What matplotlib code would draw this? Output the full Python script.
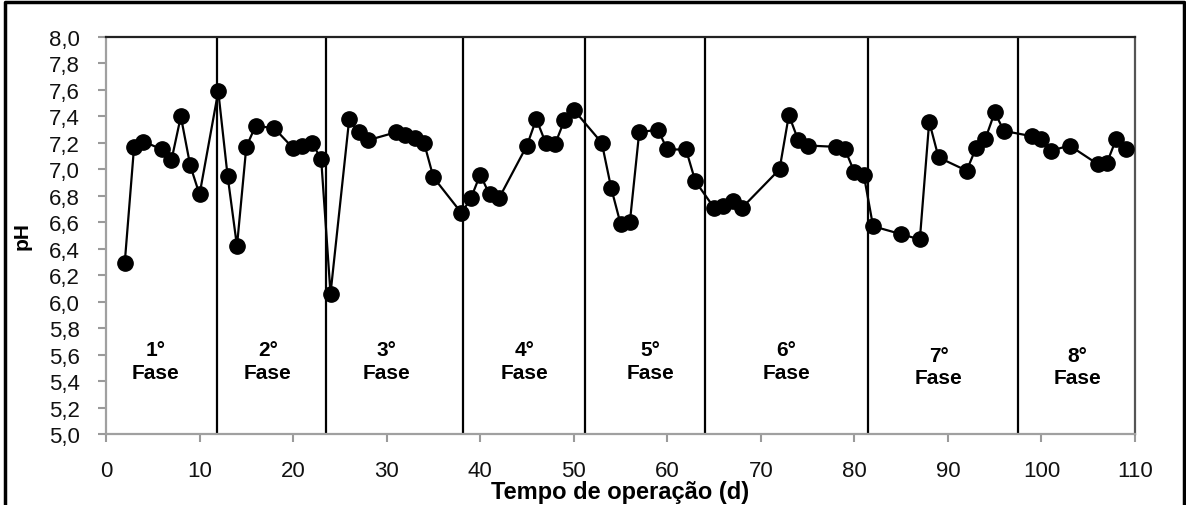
import matplotlib
matplotlib.use("Agg")
import matplotlib.pyplot as plt
from matplotlib.lines import Line2D

plt.rcParams['font.family'] = ['Liberation Sans', 'DejaVu Sans']

# dados
dias = [2, 3, 4, 6, 7, 8, 9, 10, 12, 13, 14, 15, 16, 18, 20, 21, 22, 23, 24,
        26, 27, 28, 31, 32, 33, 34, 35, 38, 39, 40, 41, 42, 45, 46, 47, 48, 49, 50,
        53, 54, 55, 56, 57, 59, 60, 62, 63, 65, 66, 67, 68, 72, 73, 74, 75, 78, 79,
        80, 81, 82, 85, 87, 88, 89, 92, 93, 94, 95, 96, 99, 100, 101, 103, 106, 107,
        108, 109]
ph = [6.29, 7.17, 7.21, 7.15, 7.07, 7.40, 7.03, 6.81, 7.59, 6.95, 6.42, 7.17, 7.33,
      7.31, 7.16, 7.18, 7.20, 7.08, 6.06,
      7.38, 7.28, 7.22, 7.28, 7.26, 7.24, 7.20, 6.94, 6.67, 6.78, 6.96, 6.81, 6.78,
      7.18, 7.38, 7.20, 7.19, 7.37, 7.45,
      7.20, 6.86, 6.59, 6.60, 7.28, 7.30, 7.15, 7.15, 6.91, 6.71, 6.72, 6.76, 6.71,
      7.00, 7.41, 7.22, 7.18, 7.17, 7.15, 6.98, 6.96, 6.57, 6.51, 6.47, 7.36, 7.09,
      6.99, 7.16, 7.23, 7.43, 7.29, 7.25, 7.23, 7.14, 7.18, 7.04, 7.05, 7.23, 7.15]

limites_fase = [11.9, 23.5, 38.2, 51.2, 64.0, 81.5, 97.5]
fases = ["1°", "2°", "3°", "4°", "5°", "6°", "7°", "8°"]
fase_x = [5.3, 17.3, 30.0, 44.7, 58.2, 72.7, 89.0, 103.8]
fase_y = [5.55, 5.55, 5.55, 5.55, 5.55, 5.55, 5.51, 5.51]

xticks = list(range(0, 111, 10))
yticks = [5.0 + 0.2 * i for i in range(16)]
ylabels = ["%.1f" % v for v in yticks]
ylabels = [s.replace(".", ",") for s in ylabels]

fig = plt.figure(figsize=(11.86, 5.06), dpi=100)
ax = fig.add_axes([106 / 1186, 1 - 435 / 506, (1135 - 106) / 1186, (435 - 38) / 506])

for xv in limites_fase:
    ax.axvline(xv, color="black", lw=1.6, zorder=1)

ax.plot(dias, ph, color="black", lw=1.6, marker="o", markersize=11, zorder=3)

for lab, xv, yv in zip(fases, fase_x, fase_y):
    ax.text(xv, yv, lab + "\nFase", ha="center", va="center", fontsize=15,
            fontweight="bold", linespacing=1.25)

ax.set_xlim(0, 110)
ax.set_ylim(5.0, 8.0)
ax.set_xticks(xticks)
ax.set_yticks(yticks)
ax.set_yticklabels(ylabels)
ax.tick_params(axis="both", labelsize=16, colors="#9a9a9a", labelcolor="#111111",
               length=6, width=1.5, direction="out")
ax.tick_params(axis="x", pad=13)
ax.tick_params(axis="y", pad=13)

ax.spines["left"].set_color("#a0a0a0")
ax.spines["bottom"].set_color("#a0a0a0")
ax.spines["top"].set_color("#222222")
ax.spines["right"].set_color("#555555")
for s in ax.spines.values():
    s.set_linewidth(1.6)

ax.set_xlabel("Tempo de operação (d)", fontsize=17, fontweight="bold", labelpad=-1)
ax.set_ylabel("pH", fontsize=15, fontweight="bold", labelpad=12)

# moldura externa (sem linha inferior)
fig.add_artist(Line2D([5 / 1186, 5 / 1186, 1184 / 1186, 1184 / 1186],
                      [0, 1 - 3 / 506, 1 - 3 / 506, 0], color="black", lw=2.5))

fig.savefig("out.png", dpi=100)
